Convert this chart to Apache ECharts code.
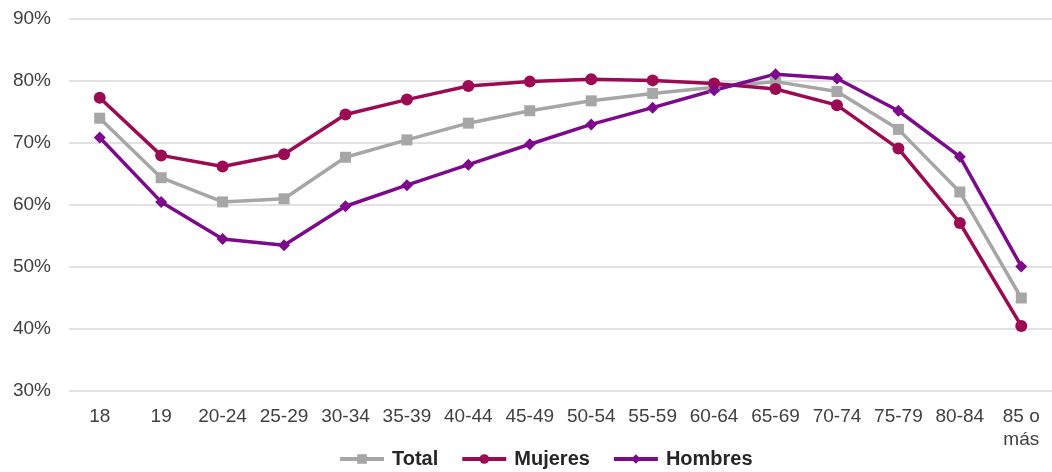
<!DOCTYPE html>
<html>
<head>
<meta charset="utf-8">
<script src="https://cdn.jsdelivr.net/npm/echarts@6/dist/echarts.min.js"></script>
<style>
html,body{margin:0;padding:0;background:#fff;}
#c{width:1052px;height:472px;}
</style>
</head>
<body>
<div id="c"></div>
<script>
var categories = ['18','19','20-24','25-29','30-34','35-39','40-44','45-49','50-54','55-59','60-64','65-69','70-74','75-79','80-84','85 o\nmás'];
var total   = [74.0, 64.4, 60.5, 61.0, 67.7, 70.5, 73.2, 75.2, 76.8, 78.0, 79.0, 79.9, 78.3, 72.2, 62.1, 45.0];
var mujeres = [77.3, 68.0, 66.2, 68.2, 74.6, 77.0, 79.2, 79.9, 80.3, 80.1, 79.6, 78.7, 76.1, 69.1, 57.1, 40.5];
var hombres = [70.9, 60.5, 54.5, 53.5, 59.8, 63.2, 66.5, 69.8, 73.0, 75.7, 78.5, 81.1, 80.4, 75.2, 67.8, 50.1];
var yTicks = { min: 30, max: 90, interval: 10 };

var chart = echarts.init(document.getElementById('c'), null, {renderer:'canvas'});
var font = "'Liberation Sans', Arial, sans-serif";
chart.setOption({
  animation: false,
  grid: { left: 69, right: -9, top: 19, bottom: 81, containLabel: false },
  legend: {
    top: 444, left: 333,
    itemWidth: 44, itemHeight: 12, itemGap: 22,
    lineStyle: { width: 4 },
    textStyle: { fontFamily: font, fontSize: 20, fontWeight: 'bold', color: '#262626', padding: [0,0,0,3] },
    data: ['Total','Mujeres','Hombres']
  },
  xAxis: {
    type: 'category', data: categories, boundaryGap: true,
    axisLine: { show: false }, axisTick: { show: false },
    axisLabel: { fontFamily: font, fontSize: 19, color: '#404040', margin: 14, lineHeight: 23, interval: 0, verticalAlign: 'top' }
  },
  yAxis: {
    type: 'value', min: yTicks.min, max: yTicks.max, interval: yTicks.interval,
    axisLine: { show: false }, axisTick: { show: false },
    axisLabel: { fontFamily: font, fontSize: 19, color: '#404040', margin: 18, formatter: '{value}%' },
    splitLine: { lineStyle: { color: '#d9d9d9', width: 1.5 } }
  },
  series: [
    { name: 'Total', type: 'line', data: total, symbol: 'rect', symbolSize: 11,
      lineStyle: { color: '#a6a6a6', width: 3.5 }, itemStyle: { color: '#a6a6a6' } },
    { name: 'Mujeres', type: 'line', data: mujeres, symbol: 'circle', symbolSize: 12,
      lineStyle: { color: '#9b0a52', width: 3.5 }, itemStyle: { color: '#9b0a52' } },
    { name: 'Hombres', type: 'line', data: hombres, symbol: 'diamond', symbolSize: 12,
      lineStyle: { color: '#7d0a8a', width: 3.5 }, itemStyle: { color: '#7d0a8a' } }
  ]
});
</script>
</body>
</html>
